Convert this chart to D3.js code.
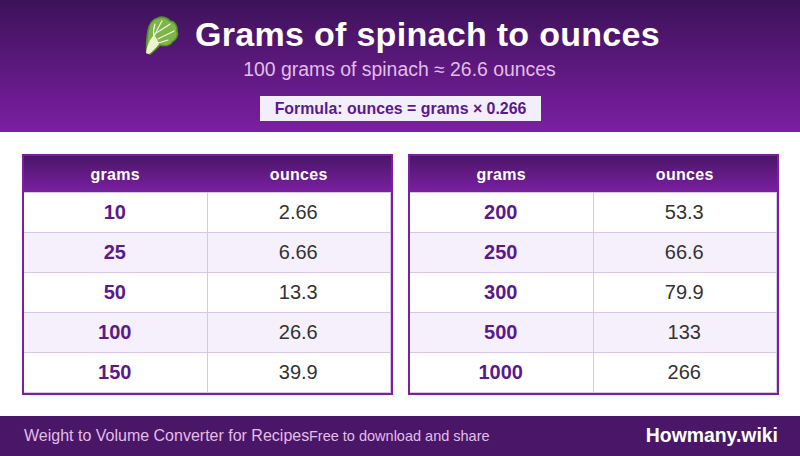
<!DOCTYPE html>
<html>
<head>
<meta charset="utf-8">
<script src="https://cdn.jsdelivr.net/npm/d3@7"></script>
<style>
  html, body { margin: 0; padding: 0; background: #fff; }
  svg { display: block; font-family: "Liberation Sans", Arial, sans-serif; text-rendering: optimizeSpeed; }
</style>
</head>
<body>
<script>
// chart data
const columns = ["grams", "ounces"];
const leftGrams = ["10", "25", "50", "100", "150"];
const leftOunces = ["2.66", "6.66", "13.3", "26.6", "39.9"];
const rightGrams = ["200", "250", "300", "500", "1000"];
const rightOunces = ["53.3", "66.6", "79.9", "133", "266"];

const titleText = "Grams of spinach to ounces";
const subtitleText = "100 grams of spinach ≈ 26.6 ounces";
const formulaText = "Formula: ounces = grams × 0.266";
const footerLeft = "Weight to Volume Converter for Recipes";
const footerMiddle = "Free to download and share";
const footerRight = "Howmany.wiki";

const width = 800, height = 456;
const svg = d3.select("body").append("svg")
  .attr("width", width)
  .attr("height", height)
  .attr("viewBox", `0 0 ${width} ${height}`);

// gradients
const defs = svg.append("defs");
function vGradient(id, from, to) {
  const g = defs.append("linearGradient").attr("id", id)
    .attr("x1", 0).attr("y1", 0).attr("x2", 0).attr("y2", 1);
  g.append("stop").attr("offset", "0%").attr("stop-color", from);
  g.append("stop").attr("offset", "100%").attr("stop-color", to);
}
vGradient("bannerGrad", "#3d1259", "#7b1fa2");
vGradient("headGrad", "#4a1668", "#7b1fa2");

// --- banner ---
svg.append("rect").attr("width", width).attr("height", 132).attr("fill", "url(#bannerGrad)");

svg.append("text").attr("x", 427.5).attr("y", 46)
  .attr("text-anchor", "middle").attr("font-size", 34).attr("font-weight", 700)
  .attr("letter-spacing", 0.3)
  .attr("fill", "#fff").text(titleText);

svg.append("text").attr("x", 399.5).attr("y", 76)
  .attr("text-anchor", "middle").attr("font-size", 19.4)
  .attr("fill", "#e1bee7").text(subtitleText);

svg.append("rect").attr("x", 260).attr("y", 96).attr("width", 281).attr("height", 25).attr("fill", "#f3eefb");
svg.append("text").attr("x", 400.5).attr("y", 114)
  .attr("text-anchor", "middle").attr("font-size", 15.9).attr("font-weight", 700)
  .attr("fill", "#5a1a8c").text(formulaText);

// leaf icon (stands in for the emoji glyph)
const leaf = svg.append("g").attr("transform", "translate(161,34)");
leaf.append("path")
  .attr("d", "M-14,19 C-15,12 -14,3 -13,-3 C-12,-10 -8,-15 -3,-16 C1,-18 7,-16 9,-13 C13,-13 17,-8 16,-3 C18,1 15,6 11,8 C9,12 3,12 -1,11 C-4,14 -8,18 -11,20 Z")
  .attr("fill", "#7fb548").attr("stroke", "#4f922a").attr("stroke-width", 1.6);
leaf.append("path")
  .attr("d", "M-15,19 C-14,11 -11,5 -7,1 C-5,3 -3,7 -2,10 C-5,14 -9,18 -12,20 Z")
  .attr("fill", "#eef2c8");
leaf.append("path")
  .attr("d", "M-13,16 C-8,5 -4,-5 1,-13 M-7,3 C-8,-2 -7,-7 -6,-10 M-5,-1 C0,-4 5,-7 9,-10 M-3,5 C2,2 8,0 13,-3 M-7,9 C-3,9 2,8 7,6")
  .attr("fill", "none").attr("stroke", "#eef6d8").attr("stroke-width", 1.2).attr("stroke-linecap", "round");

// --- tables ---
function drawTable(left, grams, ounces) {
  const tableW = 371, tableTop = 154, headH = 39, rowH = 40;
  const g = svg.append("g").attr("transform", `translate(${left},${tableTop})`);

  const x = d3.scaleBand().domain(columns).range([2, tableW - 2]);
  const y = d3.scaleBand().domain(grams).range([headH, headH + rowH * grams.length]);

  g.append("rect").attr("x", 2).attr("y", 2).attr("width", tableW - 4).attr("height", headH - 3).attr("fill", "url(#headGrad)");
  g.append("rect").attr("x", 2).attr("y", headH - 1).attr("width", tableW - 4).attr("height", 1).attr("fill", "#d8c6e6");

  g.selectAll(".head").data(columns).enter().append("text")
    .attr("x", d => x(d) + x.bandwidth() / 2 - 0.5)
    .attr("y", 25.5)
    .attr("text-anchor", "middle").attr("font-size", 16).attr("font-weight", 700)
    .attr("letter-spacing", 0.3)
    .attr("fill", "#fff").text(d => d);

  const rows = grams.map((d, i) => ({ grams: d, ounces: ounces[i], i }));

  g.selectAll(".row").data(rows).enter().append("rect")
    .attr("x", 2).attr("y", d => y(d.grams))
    .attr("width", tableW - 4).attr("height", y.bandwidth())
    .attr("fill", d => d.i % 2 ? "#f5f0fb" : "#fff");

  // row and column rules
  g.selectAll(".rule").data(rows).enter().append("rect")
    .attr("x", 2).attr("y", d => y(d.grams) + y.bandwidth() - 1)
    .attr("width", tableW - 4).attr("height", 1).attr("fill", "#d8c6e6");
  g.selectAll(".vrule").data(columns).enter().append("rect")
    .attr("x", d => Math.ceil(x(d) + x.bandwidth() - 1)).attr("y", headH).attr("width", 1)
    .attr("height", rowH * grams.length).attr("fill", "#d8c6e6");

  g.selectAll(".g").data(rows).enter().append("text")
    .attr("x", d => x("grams") + x.bandwidth() / 2 - 1)
    .attr("y", d => y(d.grams) + 26)
    .attr("text-anchor", "middle").attr("font-size", 20).attr("font-weight", 700)
    .attr("fill", "#5a1a8c").text(d => d.grams);

  g.selectAll(".o").data(rows).enter().append("text")
    .attr("x", d => x("ounces") + x.bandwidth() / 2 - 1)
    .attr("y", d => y(d.grams) + 26)
    .attr("text-anchor", "middle").attr("font-size", 20)
    .attr("fill", "#333").text(d => d.ounces);

  g.append("rect").attr("x", 1).attr("y", 1).attr("width", tableW - 2).attr("height", headH + rowH * grams.length)
    .attr("fill", "none").attr("stroke", "#7b1fa2").attr("stroke-width", 2);
}
drawTable(22, leftGrams, leftOunces);
drawTable(408, rightGrams, rightOunces);

// --- footer ---
svg.append("rect").attr("y", 416).attr("width", width).attr("height", 40).attr("fill", "#4a1668");
svg.append("text").attr("x", 24).attr("y", 441).attr("font-size", 16).attr("fill", "#e1bee7").text(footerLeft);
svg.append("text").attr("x", 309).attr("y", 441).attr("font-size", 14.5).attr("fill", "#e1bee7").text(footerMiddle);
svg.append("text").attr("x", 778).attr("y", 442).attr("text-anchor", "end")
  .attr("font-size", 19.4).attr("font-weight", 700).attr("fill", "#fff").text(footerRight);
</script>
</body>
</html>
